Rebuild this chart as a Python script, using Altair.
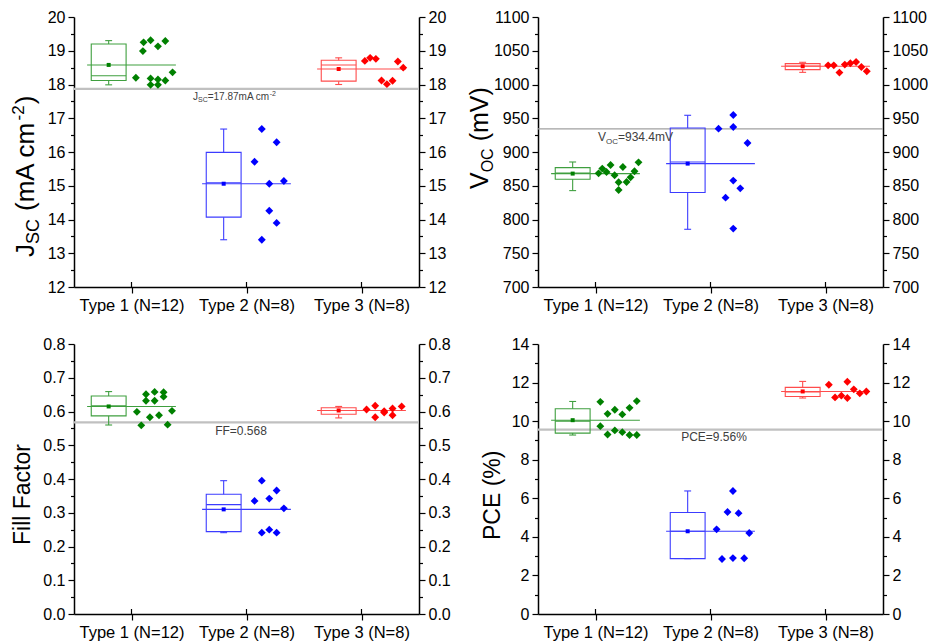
import json
import altair as alt
import pandas as pd

FONT = "Liberation Sans"

CATS = ["Type 1 (N=12)", "Type 2 (N=8)", "Type 3 (N=8)"]
POINT_COLORS = ["#008000", "#0000FF", "#FF0000"]
BOX_COLORS = ["#3F9F3F", "#3C3CFF", "#FF4C4C"]

# ---------------- J_SC (mA cm-2) ----------------
JSC_VALUES = [
    [19.25, 19.31, 19.29, 18.99, 19.13, 18.20, 18.18, 18.15, 18.12, 18.36, 17.99, 17.99],
    [16.68, 16.29, 15.71, 15.06, 15.14, 14.26, 13.90, 13.40],
    [18.70, 18.79, 18.76, 18.68, 18.50, 18.12, 18.01, 18.11],
]
JSC_JITTER = [
    [0.105, 0.166, 0.294, 0.099, 0.230, 0.038, 0.166, 0.230, 0.294, 0.357, 0.166, 0.230],
    [0.133, 0.262, 0.070, 0.198, 0.325, 0.198, 0.262, 0.133],
    [0.029, 0.075, 0.125, 0.316, 0.363, 0.174, 0.221, 0.270],
]
JSC_Q1 = [18.12, 14.07, 18.10]
JSC_Q3 = [19.20, 15.99, 18.72]
JSC_MED = [18.26, 15.09, 18.58]
JSC_MEAN = [18.58, 15.06, 18.46]
JSC_MIN = [17.99, 13.40, 18.00]
JSC_MAX = [19.30, 16.68, 18.79]
JSC_REF = 17.87

# ---------------- V_OC (mV) ----------------
VOC_VALUES = [
    [868.4, 875.4, 870.4, 880.7, 865.5, 855.1, 843.7, 877.8, 855.6, 862.5, 871.4, 884.7],
    [934.6, 954.9, 937.0, 913.3, 857.6, 846.2, 832.4, 786.5],
    [1028.4, 1028.4, 1017.6, 1029.5, 1031.4, 1033.3, 1025.9, 1019.6],
]
VOC_JITTER = [
    [0.027, 0.059, 0.096, 0.131, 0.166, 0.201, 0.201, 0.238, 0.270, 0.305, 0.339, 0.374],
    [0.070, 0.198, 0.198, 0.322, 0.198, 0.259, 0.131, 0.198],
    [0.023, 0.072, 0.121, 0.168, 0.216, 0.266, 0.312, 0.359],
]
VOC_Q1 = [859.6, 839.9, 1022.0]
VOC_Q3 = [876.9, 935.6, 1031.0]
VOC_MED = [869.0, 885.2, 1027.5]
VOC_MEAN = [868.0, 882.8, 1027.0]
VOC_MIN = [842.8, 785.5, 1018.0]
VOC_MAX = [885.2, 954.4, 1032.9]
VOC_REF = 934.4

# ---------------- Fill Factor ----------------
FF_VALUES = [
    [0.599, 0.651, 0.632, 0.583, 0.658, 0.632, 0.559, 0.589, 0.657, 0.644, 0.561, 0.602],
    [0.395, 0.366, 0.335, 0.342, 0.313, 0.241, 0.250, 0.241],
    [0.606, 0.617, 0.583, 0.597, 0.609, 0.589, 0.615, 0.601],
]
FF_JITTER = [
    [0.047, 0.126, 0.126, 0.160, 0.201, 0.201, 0.085, 0.239, 0.279, 0.279, 0.314, 0.352],
    [0.133, 0.262, 0.070, 0.198, 0.325, 0.133, 0.198, 0.262],
    [0.044, 0.119, 0.119, 0.197, 0.270, 0.270, 0.349, 0.197],
]
FF_Q1 = [0.587, 0.244, 0.592]
FF_Q3 = [0.646, 0.355, 0.611]
FF_MED = [0.617, 0.324, 0.603]
FF_MEAN = [0.615, 0.310, 0.603]
FF_MIN = [0.560, 0.241, 0.581]
FF_MAX = [0.659, 0.395, 0.615]
FF_REF = 0.568

# ---------------- PCE (%) ----------------
PCE_VALUES = [
    [11.00, 11.04, 10.38, 10.59, 10.35, 10.69, 9.74, 9.31, 9.52, 9.43, 9.28, 9.28],
    [6.38, 5.29, 5.23, 4.39, 4.20, 2.85, 2.90, 2.89],
    [11.89, 11.23, 11.32, 11.20, 12.04, 11.65, 11.44, 11.54],
]
PCE_JITTER = [
    [0.042, 0.359, 0.105, 0.168, 0.233, 0.296, 0.042, 0.105, 0.168, 0.233, 0.296, 0.359],
    [0.195, 0.148, 0.244, 0.053, 0.337, 0.100, 0.195, 0.293],
    [0.029, 0.083, 0.138, 0.190, 0.190, 0.246, 0.298, 0.355],
]
PCE_Q1 = [9.38, 2.87, 11.28]
PCE_Q3 = [10.64, 5.26, 11.75]
PCE_MED = [10.00, 4.29, 11.52]
PCE_MEAN = [10.05, 4.29, 11.54]
PCE_MIN = [9.28, 2.87, 11.20]
PCE_MAX = [11.02, 6.38, 12.06]
PCE_REF = 9.56

# ---------------- layout / style constants ----------------
W, H = 345, 270
BOX_L, BOX_R = -0.35, -0.047
BOX_C = (BOX_L + BOX_R) / 2
CAP = 0.03
MEAN_L, MEAN_R = -0.386, 0.386

ARIAL = {
    " ": 0.278, "(": 0.333, ")": 0.333, "-": 0.333, ".": 0.278, "=": 0.584, "%": 0.889,
    "A": 0.667, "C": 0.722, "E": 0.667, "F": 0.611, "J": 0.5, "O": 0.778, "P": 0.667,
    "S": 0.667, "V": 0.667, "a": 0.556, "c": 0.5, "i": 0.222, "l": 0.222, "m": 0.833,
    "o": 0.556, "r": 0.333, "t": 0.278,
}


def tw(s, size):
    return sum(ARIAL.get(ch, 0.556) for ch in s) * size


DUMMY = pd.DataFrame({"a": [0]})


def points_df(values, jitter):
    rows = []
    for i, (vals, jits) in enumerate(zip(values, jitter)):
        for v, j in zip(vals, jits):
            rows.append({"cat": CATS[i], "x": i + 0.5 + j, "y": v})
    return pd.DataFrame(rows)


def stats_df(q1, q3, med, mean, lo, hi):
    rows = []
    for i in range(len(CATS)):
        c = i + 0.5
        rows.append({
            "cat": CATS[i], "c": c + BOX_C, "bl": c + BOX_L, "br": c + BOX_R,
            "cl": c + BOX_C - CAP, "cr": c + BOX_C + CAP,
            "ml": c + MEAN_L, "mr": c + MEAN_R,
            "q1": q1[i], "q3": q3[i], "med": med[i], "mean": mean[i], "lo": lo[i], "hi": hi[i],
        })
    return pd.DataFrame(rows)


def vtitle(pieces, x0, y0):
    """pieces: (text, size, shift, gap_before) drawn bottom-to-top, rotated 270."""
    layers = []
    y = y0
    for text, size, shift, gap in pieces:
        y -= gap
        layers.append(
            alt.Chart(DUMMY).mark_text(
                text=text, fontSize=size, font=FONT, angle=270, align="left",
                baseline="alphabetic", color="black",
            ).encode(x=alt.value(x0 + shift), y=alt.value(y))
        )
        y -= tw(text, size)
    return layers


def hlabel(pieces, x0, ref, dy0, ysc, center=False):
    total = sum(tw(t, s) for t, s, _ in pieces)
    x = x0 - total / 2 if center else x0
    df = pd.DataFrame({"ref": [ref]})
    layers = []
    for text, size, shift in pieces:
        layers.append(
            alt.Chart(df).mark_text(
                text=text, fontSize=size, font=FONT, align="left",
                baseline="alphabetic", color="#404040", dy=dy0 + shift,
            ).encode(x=alt.value(x), y=alt.Y("ref:Q", scale=ysc, axis=None))
        )
        x += tw(text, size)
    return layers


def panel(values, jitter, stats, domain, step, major, fmt, ref, ref_color, ref_width,
          label_layers_fn, title_layers, anchor=False):
    n = int(round((domain[1] - domain[0]) / step))
    ticks = [round(domain[0] + k * step, 4) for k in range(n + 1)]
    major_test = f"abs(datum.value/{major} - round(datum.value/{major})) < 1e-6"
    tick_cond = {"condition": {"test": major_test, "value": 6}, "value": 3.5}
    label_expr = f"({major_test}) ? format(datum.value, '{fmt}') : ''"
    ysc = alt.Scale(domain=domain, nice=False, zero=False)
    xsc = alt.Scale(domain=[0, len(CATS)], nice=False, zero=False)

    def yaxis(orient):
        return alt.Axis(values=ticks, labelExpr=label_expr, tickSize=tick_cond, orient=orient,
                        title=None, grid=False, labelPadding=3, labelFontSize=16)

    xaxis = alt.Axis(
        values=[i + 0.5 for i in range(len(CATS))],
        labelExpr=f"{json.dumps(CATS)}[floor(datum.value)]",
        orient="bottom", title=None, grid=False, tickSize=6, labelPadding=4, labelFontSize=16.5,
    )

    pdf = points_df(values, jitter)
    sdf = stats_df(*stats)
    stroke_enc = alt.Stroke("cat:N", scale=alt.Scale(domain=CATS, range=BOX_COLORS), legend=None)
    fill_enc = alt.Fill("cat:N", scale=alt.Scale(domain=CATS, range=POINT_COLORS), legend=None)
    sbase = alt.Chart(sdf)

    refline = alt.Chart(pd.DataFrame({"ref": [ref]})).mark_rule(
        color=ref_color, strokeWidth=ref_width
    ).encode(y=alt.Y("ref:Q", scale=ysc, axis=None), x=alt.value(0), x2=alt.value(W))
    inner_ticks = alt.Chart(pd.DataFrame({"t": [i + 0.5 for i in range(len(CATS))]})).mark_rule(
        color="black", strokeWidth=1.2
    ).encode(x=alt.X("t:Q", scale=xsc, axis=xaxis), y=alt.value(H), y2=alt.value(H - 5))
    box = sbase.mark_rect(filled=False, fillOpacity=0, strokeWidth=1.1).encode(
        x=alt.X("bl:Q", scale=xsc, axis=None), x2="br:Q",
        y=alt.Y("q1:Q", scale=ysc, axis=yaxis("left")), y2="q3:Q", stroke=stroke_enc,
    )
    wh_up = sbase.mark_rule(strokeWidth=1.1).encode(
        x=alt.X("c:Q", scale=xsc, axis=None),
        y=alt.Y("q3:Q", scale=ysc, axis=None), y2="hi:Q", stroke=stroke_enc,
    )
    wh_lo = sbase.mark_rule(strokeWidth=1.1).encode(
        x=alt.X("c:Q", scale=xsc, axis=None),
        y=alt.Y("q1:Q", scale=ysc, axis=None), y2="lo:Q", stroke=stroke_enc,
    )
    cap_up = sbase.mark_rule(strokeWidth=1.1).encode(
        x=alt.X("cl:Q", scale=xsc, axis=None), x2="cr:Q",
        y=alt.Y("hi:Q", scale=ysc, axis=None), stroke=stroke_enc,
    )
    cap_lo = sbase.mark_rule(strokeWidth=1.1).encode(
        x=alt.X("cl:Q", scale=xsc, axis=None), x2="cr:Q",
        y=alt.Y("lo:Q", scale=ysc, axis=None), stroke=stroke_enc,
    )
    median = sbase.mark_rule(strokeWidth=1.1).encode(
        x=alt.X("bl:Q", scale=xsc, axis=None), x2="br:Q",
        y=alt.Y("med:Q", scale=ysc, axis=None), stroke=stroke_enc,
    )
    meanline = sbase.mark_rule(strokeWidth=1.1).encode(
        x=alt.X("ml:Q", scale=xsc, axis=None), x2="mr:Q",
        y=alt.Y("mean:Q", scale=ysc, axis=yaxis("right")), stroke=stroke_enc,
    )
    meanmark = sbase.mark_square(size=16, opacity=1).encode(
        x=alt.X("c:Q", scale=xsc, axis=None),
        y=alt.Y("mean:Q", scale=ysc, axis=None), fill=fill_enc,
    )
    pts = alt.Chart(pdf).mark_point(shape="diamond", filled=True, size=62, opacity=1).encode(
        x=alt.X("x:Q", scale=xsc, axis=None),
        y=alt.Y("y:Q", scale=ysc, axis=None), fill=fill_enc,
    )

    layers = [inner_ticks, refline, box, wh_up, wh_lo, cap_up, cap_lo, median, meanline,
              meanmark, pts] + label_layers_fn(ysc) + title_layers
    if anchor:
        layers.append(
            alt.Chart(DUMMY).mark_rule(opacity=0).encode(
                x=alt.value(-74), x2=alt.value(-72), y=alt.value(-17)
            )
        )
    return (
        alt.layer(*layers)
        .resolve_axis(x="independent", y="independent")
        .properties(width=W, height=H)
    )


jsc = panel(
    JSC_VALUES, JSC_JITTER, (JSC_Q1, JSC_Q3, JSC_MED, JSC_MEAN, JSC_MIN, JSC_MAX),
    [12, 20], 0.5, 1, "d", JSC_REF, "#C0C0C0", 2.2,
    lambda ysc: hlabel([("J", 10, 0), ("SC", 7, 2.5), ("=17.87mA cm", 10, 0), ("-2", 7, -4)],
                       119, JSC_REF, 11, ysc),
    vtitle([("J", 26, 0, 0), ("SC", 18, 5, 0), ("(mA cm", 26, 0, 8), ("-2", 17, -10, 1),
            (")", 26, 0, 1)], -40, 240),
    anchor=True,
)
voc = panel(
    VOC_VALUES, VOC_JITTER, (VOC_Q1, VOC_Q3, VOC_MED, VOC_MEAN, VOC_MIN, VOC_MAX),
    [700, 1100], 25, 50, "d", VOC_REF, "#A0A0A0", 1.2,
    lambda ysc: hlabel([("V", 12, 0), ("OC", 8, 3), ("=934.4mV", 12, 0)], 60, VOC_REF, 12, ysc),
    vtitle([("V", 25, 0, 0), ("OC", 16, 5, 0), ("(mV)", 25, 0, 7)], -50, 172),
)
ff = panel(
    FF_VALUES, FF_JITTER, (FF_Q1, FF_Q3, FF_MED, FF_MEAN, FF_MIN, FF_MAX),
    [0, 0.8], 0.05, 0.1, ".1f", FF_REF, "#C0C0C0", 2.2,
    lambda ysc: hlabel([("FF=0.568", 12, 0)], 167, FF_REF, 12.3, ysc, center=True),
    vtitle([("Fill Factor", 23, 0, 0)], -44, 201),
)
pce = panel(
    PCE_VALUES, PCE_JITTER, (PCE_Q1, PCE_Q3, PCE_MED, PCE_MEAN, PCE_MIN, PCE_MAX),
    [0, 14], 1, 2, "d", PCE_REF, "#C0C0C0", 2.2,
    lambda ysc: hlabel([("PCE=9.56%", 12, 0)], 176, PCE_REF, 11.5, ysc, center=True),
    vtitle([("PCE (%)", 23, 0, 0)], -38, 196),
)

chart = (
    alt.concat(jsc, voc, ff, pce, columns=2, spacing={"row": 57, "column": 119}, bounds="flush")
    .resolve_scale(x="independent", y="independent")
    .properties(padding=0)
    .configure_view(stroke=None)
    .configure_axis(
        domainColor="black", domainWidth=1.5, tickColor="black", tickWidth=1.2,
        labelFont=FONT, labelColor="black",
    )
)

chart.save("out.html", embed_options={"renderer": "svg", "actions": False})
